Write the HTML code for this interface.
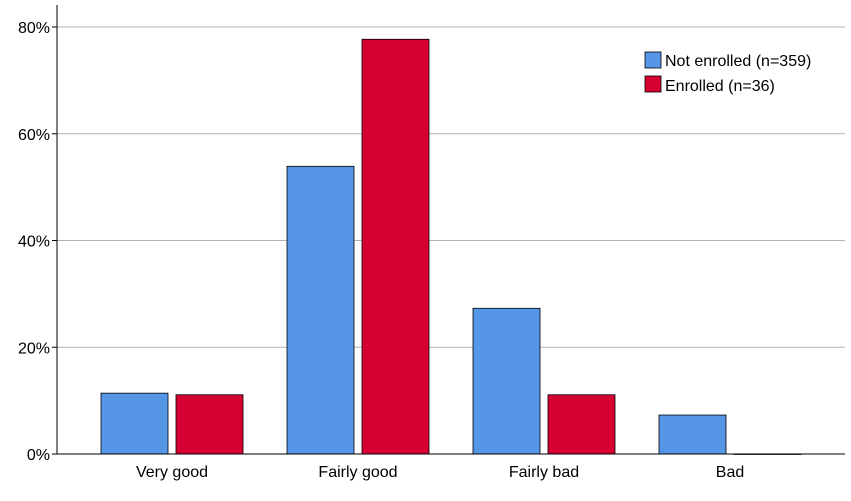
<!DOCTYPE html>
<html><head><meta charset="utf-8"><style>
body{margin:0;background:#fff;}
svg{display:block;font-family:"Liberation Sans",sans-serif;}
</style></head><body>
<svg id="chart" width="851" height="501" viewBox="0 0 851 501" xmlns="http://www.w3.org/2000/svg">
<g id="grid"></g>
<g id="bars"></g>
<g id="axes"></g>
<g>
<rect x="645" y="52" width="16" height="16" fill="#5596e6" stroke="#000" stroke-width="0.8"/>
<text x="665" y="66" font-size="16">Not enrolled (n=359)</text>
<rect x="645" y="76" width="16" height="16" fill="#d60032" stroke="#000" stroke-width="0.8"/>
<text x="665" y="91" font-size="16">Enrolled (n=36)</text>
</g>
</svg>
<script>
const categories = ["Very good","Fairly good","Fairly bad","Bad"];
const notEnrolled = [11.4,53.9,27.3,7.3];
const enrolled = [11.1,77.7,11.1,0];
const yTicks = [0,20,40,60,80];
const yTickLabels = ["0%","20%","40%","60%","80%"];

const NS="http://www.w3.org/2000/svg";
const x0=57,x1=845,yBase=454,pxPer=(454-27)/80;
const y=v=>yBase-v*pxPer;
const cx=i=>x0+115+i*186;
function mk(tag,attrs,parent){const e=document.createElementNS(NS,tag);for(const k in attrs)e.setAttribute(k,attrs[k]);parent.appendChild(e);return e;}
const grid=document.getElementById('grid'),bars=document.getElementById('bars'),axes=document.getElementById('axes');
yTicks.forEach((t,i)=>{
  if(t>0){const g=mk('line',{x1:x0,x2:x1,y1:y(t),y2:y(t),stroke:'#b4b4b4','stroke-width':1},grid);
  
  }
  const tx=mk('text',{x:50,y:y(t)+6,'font-size':16,'text-anchor':'end'},axes);
  tx.textContent=yTickLabels[i];
  
  
  const tk=mk('line',{x1:52,x2:x0,y1:y(t),y2:y(t),stroke:'#000'},axes);
  
  
});
categories.forEach((c,i)=>{
  const b1=mk('rect',{x:cx(i)-71,y:y(notEnrolled[i]),width:67,height:notEnrolled[i]*pxPer,fill:'#5596e6',stroke:'#000','stroke-width':0.8},bars);
  
  
  const b2=mk('rect',{x:cx(i)+4,y:y(enrolled[i]),width:67,height:Math.max(enrolled[i]*pxPer,0.5),fill:'#d60032',stroke:'#000','stroke-width':0.8},bars);
  
  
  const tx=mk('text',{x:cx(i),y:477,'font-size':16,'text-anchor':'middle'},axes);
  tx.textContent=c;
  
  
});
const ya=mk('line',{x1:x0,x2:x0,y1:5,y2:yBase,stroke:'#000'},axes);


const xa=mk('line',{x1:x0,x2:x1,y1:yBase,y2:yBase,stroke:'#000'},axes);


</script>
</body></html>
